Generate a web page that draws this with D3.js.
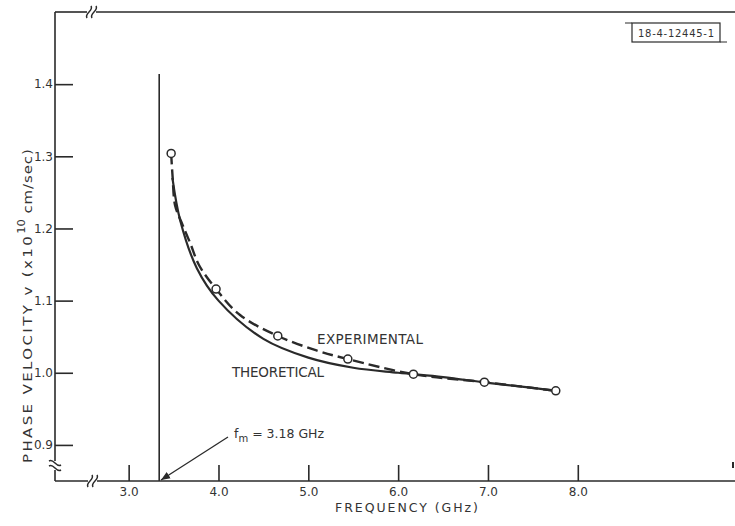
<!DOCTYPE html>
<html>
<head>
<meta charset="utf-8">
<script src="https://cdn.jsdelivr.net/npm/d3@7.9.0/dist/d3.min.js"></script>
<style>
  body { margin: 0; background: #fff; }
  svg { display: block; }
  text { font-family: "DejaVu Sans", sans-serif; fill: #333; }
</style>
</head>
<body>
<svg id="chart" width="735" height="526"></svg>
<script>
// experimental circles (GHz, x10^10 cm/sec)
const expFreq = [3.473, 3.973, 4.66, 5.44, 6.17, 6.96, 7.755];
const expVel = [1.304, 1.116, 1.051, 1.019, 0.998, 0.987, 0.975];

// dashed experimental curve
const dashFreq = [3.473, 3.49, 3.517, 3.60, 3.684, 3.784, 3.973, 4.24, 4.66, 5.09, 5.44, 6.17, 6.96, 7.755];
const dashVel = [1.304, 1.27, 1.232, 1.205, 1.180, 1.149, 1.116, 1.080, 1.051, 1.031, 1.019, 0.998, 0.987, 0.975];

// solid theoretical curve
const theoFreq = [3.487, 3.573, 3.759, 4.0, 4.5, 5.0, 5.5, 6.0, 6.5, 7.0, 7.5, 7.75];
const theoVel = [1.270, 1.2115, 1.145, 1.100, 1.047, 1.021, 1.007, 1.000, 0.994, 0.986, 0.979, 0.975];

const xTicks = [3, 4, 5, 6, 7, 8];
const yTicks = [0.9, 1.0, 1.1, 1.2, 1.3, 1.4];
const cutoffFreq = 3.34;

const svg = d3.select('#chart');
const ink = '#2a2a2a';

const x = d3.scaleLinear().domain([2.18, 9.75]).range([55, 735]);
const y = d3.scaleLinear().domain([0.85, 1.5]).range([481, 12]);

// axes
const xAxis = svg.append('g')
  .attr('transform', `translate(0,${y(0.85)})`)
  .call(d3.axisBottom(x).tickValues(xTicks).tickFormat(d3.format('.1f'))
    .tickSizeInner(-16).tickSizeOuter(0).tickPadding(6));

const yAxis = svg.append('g')
  .attr('transform', `translate(${x(2.18)},0)`)
  .call(d3.axisLeft(y).tickValues(yTicks).tickFormat(d3.format('.1f'))
    .tickSizeInner(-18).tickSizeOuter(0).tickPadding(2));

[xAxis, yAxis].forEach(g => {
  g.select('.domain').remove();
  g.selectAll('.tick line').attr('stroke', ink).attr('stroke-width', 1.6);
  g.selectAll('.tick text').style('font-size', '12px').attr('fill', '#444');
});

// frame lines with breaks
const frame = [
  [[55, 481], [88, 481]], [[97, 481], [735, 481]],
  [[55, 481], [55, 470]], [[55, 461], [55, 12]],
  [[55, 12], [87, 12]], [[96, 12], [735, 12]]
];
frame.forEach(s => {
  svg.append('line')
    .attr('x1', s[0][0]).attr('y1', s[0][1])
    .attr('x2', s[1][0]).attr('y2', s[1][1])
    .attr('stroke', ink).attr('stroke-width', 1.6);
});

function breakMark(cx, cy, vertical) {
  const g = svg.append('g').attr('transform', `translate(${cx},${cy}) rotate(${vertical ? 90 : 0})`);
  [-2.5, 2.5].forEach(o => {
    g.append('path')
      .attr('d', `M${o - 2},6 C${o - 5},1 ${o + 5},-1 ${o + 2},-6`)
      .attr('fill', 'none').attr('stroke', ink).attr('stroke-width', 1.5);
  });
}
breakMark(92.5, 481, false);
breakMark(91.5, 12, false);
breakMark(55, 465.5, true);

// small mark at right edge
svg.append('line').attr('x1', 733).attr('y1', 462).attr('x2', 733).attr('y2', 468)
  .attr('stroke', ink).attr('stroke-width', 2);

// cutoff line
svg.append('line')
  .attr('x1', x(cutoffFreq)).attr('x2', x(cutoffFreq))
  .attr('y1', 74).attr('y2', y(0.85))
  .attr('stroke', ink).attr('stroke-width', 1.6);

// curves
const line = d3.line().x(d => x(d[0])).y(d => y(d[1])).curve(d3.curveCatmullRom.alpha(0.5));

svg.append('path')
  .datum(d3.zip(theoFreq, theoVel))
  .attr('d', line)
  .attr('fill', 'none').attr('stroke', ink).attr('stroke-width', 2.2);

svg.append('path')
  .datum(d3.zip(dashFreq, dashVel))
  .attr('d', line)
  .attr('fill', 'none').attr('stroke', ink).attr('stroke-width', 2.4)
  .attr('stroke-dasharray', '11,5');

svg.selectAll('circle.exp')
  .data(d3.zip(expFreq, expVel))
  .join('circle')
  .attr('class', 'exp')
  .attr('cx', d => x(d[0])).attr('cy', d => y(d[1]))
  .attr('r', 4)
  .attr('fill', '#fff').attr('stroke', ink).attr('stroke-width', 1.5);

// labels
svg.append('text').attr('x', 317).attr('y', 344)
  .attr('textLength', 106).style('font-size', '13.5px').text('EXPERIMENTAL');
svg.append('text').attr('x', 232).attr('y', 377)
  .attr('textLength', 92).style('font-size', '13.5px').text('THEORETICAL');

svg.append('text').attr('x', 335).attr('y', 512)
  .attr('textLength', 143).style('font-size', '12.5px')
  .text('FREQUENCY  (GHz)');

// y title
const yt = svg.append('text')
  .attr('transform', 'translate(32,463) rotate(-90) scale(1.15,1)')
  .style('font-size', '13px').style('letter-spacing', '2.1px');
yt.append('tspan').text('PHASE  VELOCITY  v  (x10');
yt.append('tspan').attr('dy', -7).style('font-size', '10px').style('letter-spacing', '0px').text('10');
yt.append('tspan').attr('dy', 7).style('letter-spacing', '0.8px').text(' cm/sec)');

// f_m annotation
const fm = svg.append('text').attr('x', 234).attr('y', 438).style('font-size', '12.5px');
fm.append('tspan').text('f');
fm.append('tspan').attr('dy', 4).style('font-size', '10px').text('m');
fm.append('tspan').attr('dy', -4).text(' =  3.18 GHz');

svg.append('defs').append('marker')
  .attr('id', 'arrow').attr('viewBox', '0 0 10 10')
  .attr('refX', 10).attr('refY', 5)
  .attr('markerWidth', 7).attr('markerHeight', 7)
  .attr('orient', 'auto')
  .append('path').attr('d', 'M0,1 L10,5 L0,9 Z').attr('fill', ink);

svg.append('line')
  .attr('x1', 228).attr('y1', 437).attr('x2', 161).attr('y2', 480)
  .attr('stroke', ink).attr('stroke-width', 1.3)
  .attr('marker-end', 'url(#arrow)');

// drawing number box
svg.append('rect').attr('x', 632).attr('y', 23).attr('width', 88).attr('height', 19)
  .attr('fill', 'none').attr('stroke', ink).attr('stroke-width', 1.2);
svg.append('line').attr('x1', 625).attr('y1', 23).attr('x2', 632).attr('y2', 23)
  .attr('stroke', ink).attr('stroke-width', 1);
svg.append('line').attr('x1', 720).attr('y1', 42).attr('x2', 727).attr('y2', 42)
  .attr('stroke', ink).attr('stroke-width', 1);
svg.append('text').attr('x', 676).attr('y', 36.5).attr('text-anchor', 'middle')
  .attr('textLength', 76).style('font-size', '10px').text('18-4-12445-1');
</script>
</body>
</html>
